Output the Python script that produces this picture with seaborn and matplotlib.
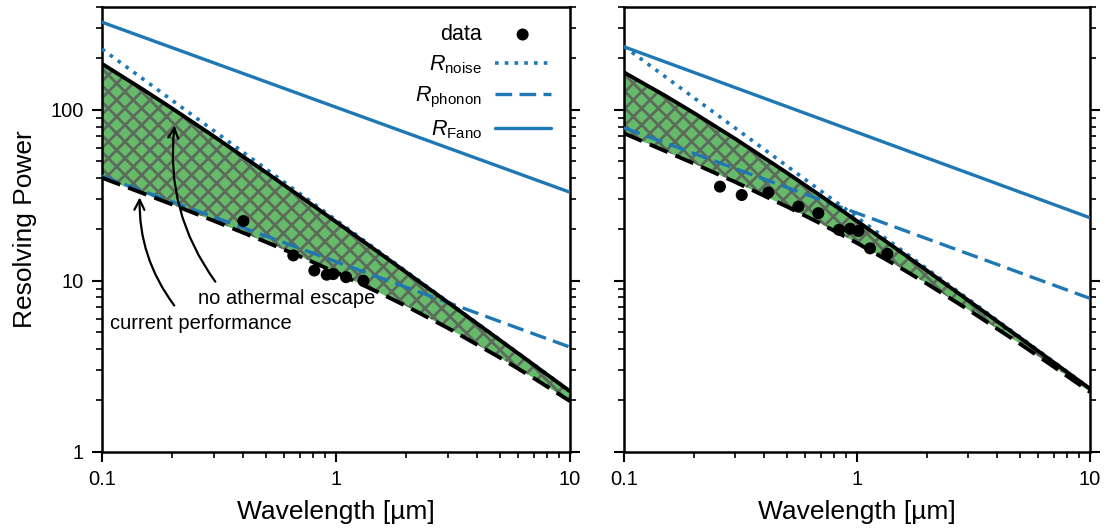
import matplotlib
matplotlib.use("Agg")
import matplotlib.pyplot as plt
import seaborn as sns

sns.set_theme(style="ticks")
plt.rcParams["font.family"] = ["Liberation Sans", "DejaVu Sans"]
plt.rcParams["mathtext.fontset"] = "custom"
plt.rcParams["mathtext.rm"] = "Liberation Sans"
plt.rcParams["mathtext.it"] = "Liberation Sans:italic"
plt.rcParams["hatch.linewidth"] = 2.0
for key in ["text.color", "axes.labelcolor", "xtick.color", "ytick.color", "axes.edgecolor"]:
    plt.rcParams[key] = "black"

BLUE = "#1f77b4"
GREEN = "#66bb6a"
HATCH = "#5d6b5d"

# ---- wavelength grid for the combined curves [um]
wl = [0.1, 0.15, 0.2, 0.3, 0.5, 0.7, 1.0, 1.5, 2.0, 3.0, 5.0, 7.0, 10.0]
wl_ends = [0.1, 10.0]

# ---- left panel
left_fano = [326, 33]
left_noise = [227, 2.27]
left_phonon = [41, 4.1]
left_no_escape = [186.2, 131.5, 101.8, 70.2, 43.3, 31.36, 22.17, 14.89, 11.21, 7.51, 4.52, 3.23, 2.26]
left_current = [40.1, 32.5, 27.95, 22.48, 16.93, 13.92, 11.21, 8.64, 7.11, 5.31, 3.57, 2.70, 1.98]
left_data_wl = [0.402, 0.657, 0.808, 0.913, 0.973, 1.104, 1.309]
left_data_R = [22.4, 14.1, 11.5, 10.87, 10.96, 10.52, 10.03]

# ---- right panel
right_fano = [234, 23.4]
right_noise = [235, 2.35]
right_phonon = [78.6, 7.9]
right_no_escape = [165.8, 121.2, 95.8, 67.8, 42.9, 31.39, 22.4, 15.17, 11.46, 7.70, 4.65, 3.33, 2.34]
right_current = [73.0, 57.5, 48.5, 37.9, 27.2, 21.6, 16.65, 12.16, 9.61, 6.79, 4.29, 3.14, 2.24]
right_data_wl = [0.258, 0.320, 0.416, 0.560, 0.682, 0.837, 0.933, 1.014, 1.137, 1.349]
right_data_R = [35.6, 31.8, 32.9, 27.2, 24.9, 19.9, 20.2, 19.6, 15.5, 14.4]

xticks = [0.1, 1, 10]
xticklabels = ["0.1", "1", "10"]
yticks = [1, 10, 100]
yticklabels = ["1", "10", "100"]

fig = plt.figure(figsize=(11.10, 5.31), dpi=100)
ax_l = fig.add_axes([0.0919, 0.149, 0.4216, 0.8378])
ax_r = fig.add_axes([0.5622, 0.149, 0.4198, 0.8378])

DOT = (0, (1, 1.7))
DASH = (0, (5, 2.2))


def draw_panel(ax, fano, noise, phonon, no_escape, current, dwl, dR):
    ax.set_xscale("log")
    ax.set_yscale("log")
    ax.fill_between(wl, current, no_escape, facecolor=GREEN, edgecolor=HATCH,
                    hatch="xx", linewidth=0, zorder=1)
    sns.lineplot(x=wl_ends, y=noise, ax=ax, color=BLUE, lw=2.6, linestyle=DOT,
                 label=r"$R_\mathrm{noise}$", zorder=3)
    h_noise = ax.lines[-1]
    sns.lineplot(x=wl_ends, y=phonon, ax=ax, color=BLUE, lw=2.4, linestyle=DASH,
                 label=r"$R_\mathrm{phonon}$", zorder=3)
    h_phonon = ax.lines[-1]
    sns.lineplot(x=wl_ends, y=fano, ax=ax, color=BLUE, lw=2.4, linestyle="-",
                 label=r"$R_\mathrm{Fano}$", zorder=3)
    h_fano = ax.lines[-1]
    sns.lineplot(x=wl, y=no_escape, ax=ax, color="black", lw=2.8, linestyle="-",
                 zorder=4)
    sns.lineplot(x=wl, y=current, ax=ax, color="black", lw=2.8, linestyle=DASH,
                 zorder=4)
    sns.scatterplot(x=dwl, y=dR, ax=ax, color="black", s=75, edgecolor="none",
                    label="data", zorder=5)
    h_data = ax.collections[-1]

    ax.set_xlim(0.1, 10)
    ax.set_ylim(1, 400)
    ax.set_xticks(xticks)
    ax.set_xticklabels(xticklabels)
    ax.set_yticks(yticks)
    ax.tick_params(which="major", direction="out", length=7, width=1.5,
                   labelsize=14.5, right=True, top=False, pad=6)
    ax.tick_params(which="minor", direction="out", length=4, width=1.2,
                   right=True, top=False)
    for sp in ax.spines.values():
        sp.set_linewidth(1.8)
        sp.set_color("black")
    ax.set_xlabel("Wavelength [µm]", fontsize=19, labelpad=8)
    leg = ax.get_legend()
    if leg is not None:
        leg.remove()
    return [h_data, h_noise, h_phonon, h_fano]


handles = draw_panel(ax_l, left_fano, left_noise, left_phonon, left_no_escape,
                     left_current, left_data_wl, left_data_R)
draw_panel(ax_r, right_fano, right_noise, right_phonon, right_no_escape,
           right_current, right_data_wl, right_data_R)

ax_l.set_yticklabels(yticklabels)
ax_r.set_yticklabels([])
ax_l.set_ylabel("Resolving Power", fontsize=19, labelpad=10)

ax_l.legend(handles=handles,
            labels=["data", r"$R_\mathrm{noise}$", r"$R_\mathrm{phonon}$", r"$R_\mathrm{Fano}$"],
            loc="upper right", bbox_to_anchor=(1.0, 1.005), frameon=False,
            markerfirst=False, fontsize=15.5, handlelength=2.6, labelspacing=0.4,
            handletextpad=0.6)

# annotations for the two bounding curves
ax_l.text(0.618, 7.86, "no athermal escape", fontsize=14.5, ha="center", va="center")
ax_l.annotate("", xy=(0.205, 84), xytext=(0.310, 9.6),
              arrowprops=dict(arrowstyle="->,head_length=0.6,head_width=0.3",
                              color="black", lw=1.6,
                              connectionstyle="arc3,rad=-0.2"))
ax_l.text(0.265, 5.62, "current performance", fontsize=14.5, ha="center", va="center")
ax_l.annotate("", xy=(0.145, 32), xytext=(0.207, 6.97),
              arrowprops=dict(arrowstyle="->,head_length=0.6,head_width=0.3",
                              color="black", lw=1.6,
                              connectionstyle="arc3,rad=-0.18"))

fig.savefig("out.png", dpi=100)
